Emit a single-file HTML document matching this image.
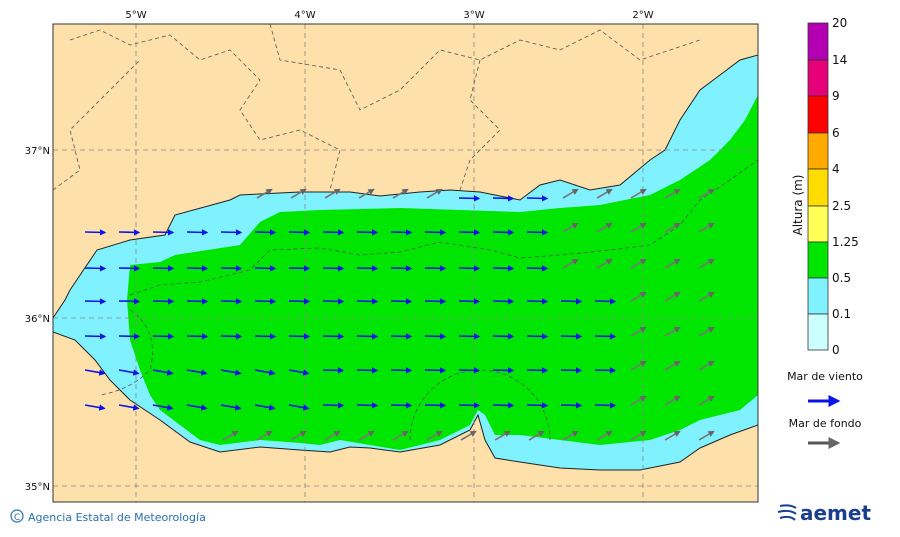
<!DOCTYPE html>
<html><head><meta charset="utf-8"><style>
body{margin:0;background:#fff;width:900px;height:533px;overflow:hidden;font-family:"DejaVu Sans","Liberation Sans",sans-serif}
</style></head><body>
<svg id="s" width="900" height="533" xmlns="http://www.w3.org/2000/svg" font-family="DejaVu Sans, Liberation Sans, sans-serif">
<defs>
<clipPath id="c"><rect x="53" y="24" width="705" height="478"/></clipPath>
<marker id="mb" viewBox="0 0 10 10" refX="8" refY="5" markerWidth="4" markerHeight="4" orient="auto"><path d="M0,0L10,5L0,10z" fill="#0a14e6"/></marker>
<marker id="mg" viewBox="0 0 10 10" refX="8" refY="5" markerWidth="4" markerHeight="4" orient="auto"><path d="M0,0L10,5L0,10z" fill="#666"/></marker>
</defs>
<rect x="53" y="24" width="705" height="478" fill="#fde0aa"/>
<g clip-path="url(#c)">
<path d="M53,318 L65,300 L70,290 L97,250 L130,240 L165,235 L175,215 L230,200 L240,195 L300,192 L350,192 L380,196 L420,192 L450,190 L480,192 L500,196 L520,200 L540,185 L560,180 L590,190 L620,185 L650,160 L665,150 L680,120 L700,90 L720,75 L740,60 L758,55 L758,425 L730,435 L700,448 L680,462 L640,470 L600,470 L560,468 L520,462 L495,458 L485,440 L478,415 L470,430 L440,445 L400,452 L370,448 L350,447 L330,452 L300,450 L260,447 L220,452 L190,442 L160,420 L130,400 L110,380 L95,360 L75,340 L53,332 Z" fill="#80f2ff" stroke="#222" stroke-width="1"/>
<path d="M130,265 L160,262 L175,255 L240,245 L260,222 L280,212 L320,210 L400,208 L460,210 L520,212 L560,208 L600,205 L650,195 L680,180 L710,160 L730,140 L745,120 L758,95 L758,395 L740,410 L700,420 L680,430 L650,440 L600,445 L560,440 L520,435 L495,435 L485,415 L478,410 L470,425 L440,440 L400,450 L370,445 L340,440 L320,445 L300,443 L260,440 L220,445 L200,440 L180,425 L160,410 L150,395 L140,370 L130,340 L127,300 Z" fill="#00e600"/>
<g stroke="#555" stroke-width="0.8" stroke-dasharray="4,3" fill="none">
<path d="M70,40 L100,30 L130,45 L170,35 L200,60 L230,50 L260,80 L240,110 L260,140 L300,130 L340,150 L330,190"/>
<path d="M270,24 L280,60 L340,70 L360,110 L400,90 L440,50 L480,60 L520,40 L560,50 L600,30 L640,60 L700,40"/>
<path d="M53,190 L80,170 L70,130 L100,100 L120,80 L140,60"/>
<path d="M480,60 L470,100 L500,130 L470,160 L460,190"/>
<path d="M130,295 L160,285 L200,282 L250,270 L270,250 L320,248 L360,255 L400,252 L440,242 L490,250 L520,258 L560,255 L610,250 L650,245 L680,225 L700,200 L730,180 L758,160"/>
<path d="M410,440 A70,70 0 0 1 550,440"/>
<path d="M130,310 Q160,330 150,370 Q130,390 100,395"/>
</g>
<g stroke="#888" stroke-width="0.8" stroke-dasharray="5,4">
<line x1="136" y1="24" x2="136" y2="502"/><line x1="305" y1="24" x2="305" y2="502"/><line x1="474" y1="24" x2="474" y2="502"/><line x1="643" y1="24" x2="643" y2="502"/>
<line x1="53" y1="150" x2="758" y2="150"/><line x1="53" y1="318" x2="758" y2="318"/><line x1="53" y1="486" x2="758" y2="486"/>
</g>
<g id="arr"></g>
</g>
<rect x="53" y="24" width="705" height="478" fill="none" stroke="#333" stroke-width="1"/>
<g font-size="10" fill="#111" text-anchor="middle">
<text x="136" y="18">5°W</text><text x="305" y="18">4°W</text><text x="474" y="18">3°W</text><text x="643" y="18">2°W</text>
</g>
<g font-size="10" fill="#111" text-anchor="end">
<text x="50" y="154">37°N</text><text x="50" y="322">36°N</text><text x="50" y="490">35°N</text>
</g>
<g stroke="#333" stroke-width="0.8">
<rect x="808" y="23" width="20" height="37" fill="#b300b3"/>
<rect x="808" y="60" width="20" height="36" fill="#e6007a"/>
<rect x="808" y="96" width="20" height="37" fill="#ff0000"/>
<rect x="808" y="133" width="20" height="36" fill="#ffaa00"/>
<rect x="808" y="169" width="20" height="37" fill="#ffdd00"/>
<rect x="808" y="206" width="20" height="36" fill="#ffff55"/>
<rect x="808" y="242" width="20" height="36" fill="#00e600"/>
<rect x="808" y="278" width="20" height="36" fill="#80f2ff"/>
<rect x="808" y="314" width="20" height="36" fill="#ccffff"/>
</g>
<g font-size="12" fill="#111">
<text x="832" y="27">20</text><text x="832" y="64">14</text><text x="832" y="100">9</text><text x="832" y="137">6</text><text x="832" y="173">4</text><text x="832" y="210">2.5</text><text x="832" y="246">1.25</text><text x="832" y="282">0.5</text><text x="832" y="318">0.1</text><text x="832" y="354">0</text>
</g>
<text x="802" y="205" font-size="12" transform="rotate(-90 802 205)" text-anchor="middle" fill="#111">Altura (m)</text>
<text x="825" y="380" font-size="11" text-anchor="middle" fill="#111">Mar de viento</text>
<line x1="808" y1="401" x2="838" y2="401" stroke="#0a14e6" stroke-width="3" marker-end="url(#mb)"/>
<text x="825" y="427" font-size="11" text-anchor="middle" fill="#111">Mar de fondo</text>
<line x1="808" y1="443" x2="838" y2="443" stroke="#555" stroke-width="3" marker-end="url(#mg)"/>
<circle cx="17" cy="516" r="6" fill="none" stroke="#2a6fb5" stroke-width="1.2"/>
<text x="14" y="520" font-size="9" fill="#2a6fb5">C</text>
<text x="28" y="521" font-size="11" fill="#2a6fb5">Agencia Estatal de Meteorología</text>
<text x="800" y="520" font-size="20" font-weight="bold" fill="#1a3f8f">aemet</text>
<g stroke="#1a3f8f" stroke-width="2" fill="none"><path d="M780,506 Q790,504 796,508"/><path d="M778,512 Q790,509 796,514"/><path d="M780,518 Q790,515 795,520"/></g>
</svg>
<script>
var g=document.getElementById('arr'),ns='http://www.w3.org/2000/svg';
var cols=[],rows=[198,232,268,301,336,370,405,440];
for(var x=95;x<=740;x+=34)cols.push(x);
function inside(x,y){
 if(y<232&&x<250)return false;
 if(y<198+0)return false;
 if(y>=440&&(x<230))return false;
 if(x<90&&(y<290||y>345))return false;
 return true;}
rows.forEach(function(y,ri){cols.forEach(function(x,ci){
 if(!inside(x,y))return;
 var gray=(x>560&&ri<3)||(x>610)||(ri==7)||(ri==0&&x<450);
 var l=document.createElementNS(ns,'line');
 var a=gray?-0.6:(ri>4&&x<300?0.35:0.05);
 var L=gray?16:20;
 l.setAttribute('x1',x-L/2);l.setAttribute('y1',y);
 l.setAttribute('x2',x+L/2*Math.cos(a));l.setAttribute('y2',y+L/2*Math.sin(a)+ (gray?-4:0));
 l.setAttribute('stroke',gray?'#777':'#0a14e6');l.setAttribute('stroke-width','1.6');
 l.setAttribute('marker-end',gray?'url(#mg)':'url(#mb)');
 g.appendChild(l);
});});
</script>
</body></html>
